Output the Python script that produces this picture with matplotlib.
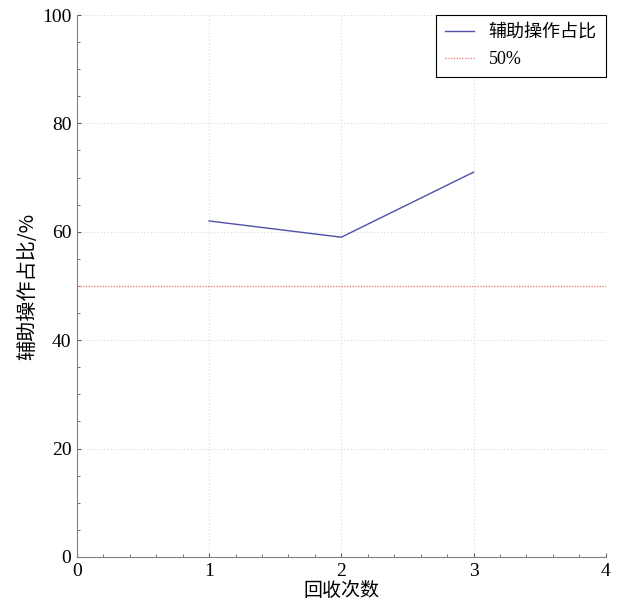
import matplotlib
matplotlib.use("Agg")
import matplotlib.pyplot as plt
from matplotlib.ticker import MultipleLocator

plt.rcParams['font.family'] = ['Liberation Serif', 'Noto Sans CJK SC']

rounds = [1, 2, 3]
ratio = [62, 59, 71]
threshold = 50
series_label = '辅助操作占比'
threshold_label = '50%'
xlabel = '回收次数'
ylabel = '辅助操作占比/%'

fig = plt.figure(figsize=(6.2, 6.0), dpi=100)
ax = fig.add_axes([0.124, 0.0717, 0.853, 0.9033])

ax.plot(rounds, ratio, color='#5050a8', lw=1.0, label=series_label)
ax.axhline(threshold, color='#f08080', lw=1.0, ls=(0, (1, 1)), label=threshold_label)

ax.set_xlim(0, 4)
ax.set_ylim(0, 100)
ax.xaxis.set_major_locator(MultipleLocator(1))
ax.xaxis.set_minor_locator(MultipleLocator(0.2))
ax.yaxis.set_major_locator(MultipleLocator(20))
ax.yaxis.set_minor_locator(MultipleLocator(5))
ax.grid(True, which='major', color='#d8d8d8', ls=(0, (1, 2)), lw=0.8)

for s in ['top', 'right']:
    ax.spines[s].set_visible(False)
for s in ['left', 'bottom']:
    ax.spines[s].set_color('#808080')
ax.tick_params(which='both', direction='in', colors='#606060', labelcolor='black', labelsize=14)
ax.tick_params(which='major', length=3, pad=4)
ax.tick_params(which='minor', length=2)

ax.set_xlabel(xlabel, fontsize=13.7, family=['Noto Sans CJK SC'], labelpad=0)
ax.set_ylabel(ylabel, fontsize=14.5, family=['Noto Sans CJK SC', 'Liberation Serif'], labelpad=3)

leg = ax.legend(loc='upper right', fancybox=False, framealpha=1,
                edgecolor='black', borderaxespad=0.0, handlelength=1.6,
                labelspacing=0.55, borderpad=0.5, handletextpad=0.8,
                prop={'family': ['Liberation Serif', 'Noto Sans CJK SC'], 'size': 13})
leg.get_frame().set_linewidth(0.8)

fig.savefig('out.png', dpi=100)
